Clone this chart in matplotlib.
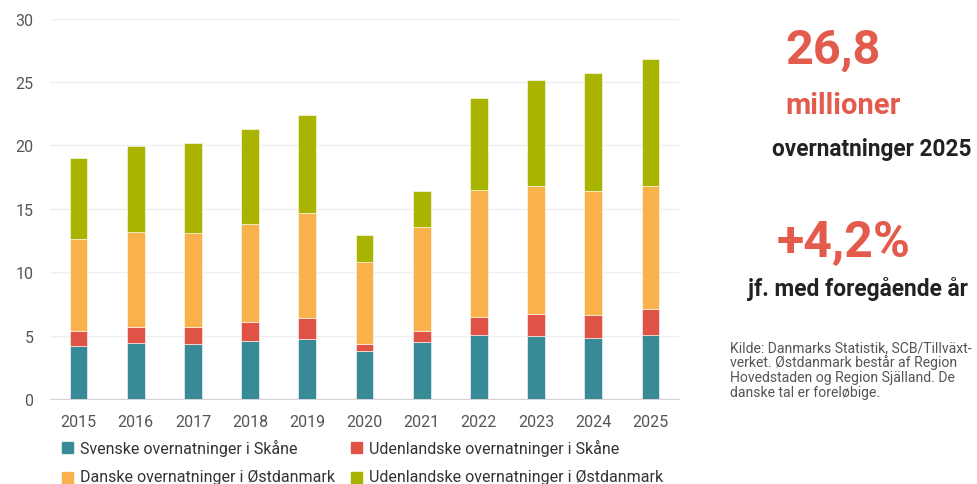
import matplotlib.pyplot as plt
from matplotlib.patches import Rectangle

plt.rcParams['font.family'] = ['Roboto', 'DejaVu Sans']

# overnatninger, millioner
years = ['2015', '2016', '2017', '2018', '2019', '2020', '2021', '2022', '2023', '2024', '2025']
svenske_skaane = [4.20, 4.44, 4.36, 4.55, 4.76, 3.81, 4.52, 5.02, 4.99, 4.78, 5.07]
udl_skaane = [1.16, 1.26, 1.34, 1.52, 1.63, 0.55, 0.84, 1.47, 1.74, 1.87, 2.03]
danske_oest = [7.26, 7.47, 7.42, 7.73, 8.28, 6.44, 8.23, 9.99, 10.09, 9.75, 9.70]
udl_oest = [6.41, 6.81, 7.04, 7.52, 7.73, 2.13, 2.84, 7.26, 8.36, 9.31, 10.01]

series = [svenske_skaane, udl_skaane, danske_oest, udl_oest]
labels = ['Svenske overnatninger i Skåne', 'Udenlandske overnatninger i Skåne',
          'Danske overnatninger i Østdanmark', 'Udenlandske overnatninger i Østdanmark']
colors = ['#378A96', '#E05146', '#F9B24B', '#A8B400']

W, H = 978, 485
fig = plt.figure(figsize=(W / 100, H / 100), dpi=100)
ax = fig.add_axes([50 / W, (H - 400) / H, 629 / W, 380.5 / H])

x = range(len(years))
bottom = [0] * len(years)
for vals, col, lab in zip(series, colors, labels):
    ax.bar(x, vals, 0.31, bottom=bottom, color=col, edgecolor='white', linewidth=0.4, label=lab, zorder=3)
    bottom = [b + v for b, v in zip(bottom, vals)]

ax.set_xlim(-0.5, len(years) - 0.5)
ax.set_ylim(0, 30)
ax.set_yticks(range(0, 31, 5))
ax.set_xticks(list(x))
ax.set_xticklabels(years)
ax.grid(axis='y', color='#EFEFEF', linewidth=1, zorder=0)
for s in ['top', 'right', 'left']:
    ax.spines[s].set_visible(False)
ax.spines['bottom'].set_color('#D4D4D4')
ax.tick_params(axis='both', length=0, labelsize=11.5, colors='#555555')
ax.tick_params(axis='y', pad=12)
ax.tick_params(axis='x', pad=11)

# legend, two rows
leg_pos = [(62, 448), (351, 448), (62, 478), (351, 478)]
for (lx, ly), col, lab in zip(leg_pos, colors, labels):
    fig.patches.append(Rectangle((lx / W, (H - ly - 5.5) / H), 11 / W, 11 / H,
                                 transform=fig.transFigure, color=col))
    fig.text((lx + 18) / W, (H - ly) / H, lab, fontsize=11.5, color='#333333', va='center', ha='left')

# key figures
red = '#E35B4D'
fig.text(785 / W, (H - 63.5) / H, '26,8', fontsize=35, fontweight='bold', color=red, va='baseline')
fig.text(785 / W, (H - 114) / H, 'millioner', fontsize=21, fontweight='bold', color=red, va='baseline')
fig.text(772 / W, (H - 156) / H, 'overnatninger 2025', fontsize=16.3, fontweight='bold', color='#222222', va='baseline')
fig.text(777 / W, (H - 256.5) / H, '+4,2%', fontsize=36, fontweight='bold', color=red, va='baseline')
fig.text(748 / W, (H - 296) / H, 'jf. med foregående år', fontsize=16.4, fontweight='bold', color='#222222', va='baseline')

note = ['Kilde: Danmarks Statistik, SCB/Tillväxt-',
        'verket. Østdanmark består af Region',
        'Hovedstaden og Region Själland. De',
        'danske tal er foreløbige.']
for i, line in enumerate(note):
    fig.text(730 / W, (H - 352 - 15 * i) / H, line, fontsize=10.1, color='#555555', va='baseline')

fig.savefig('out.png', dpi=100)
